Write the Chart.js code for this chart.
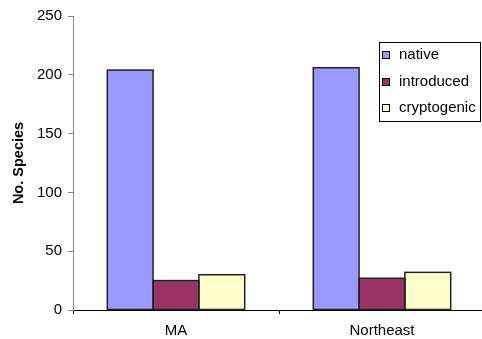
<!DOCTYPE html>
<html>
<head>
<meta charset="utf-8">
<script src="https://cdn.jsdelivr.net/npm/chart.js@4.4.1/dist/chart.umd.min.js"></script>
<style>
  html, body { margin: 0; padding: 0; background: #fff; overflow: hidden; }
  #wrap { width: 485px; height: 339px; }
</style>
</head>
<body>
<div id="wrap"><canvas id="c" width="485" height="339"></canvas></div>
<script>
// Species counts by origin, for Massachusetts and the wider Northeast
const categories = ['MA', 'Northeast'];
const seriesNames = ['native', 'introduced', 'cryptogenic'];
const nativeCounts = [204, 206];
const introducedCounts = [25, 27];
const cryptogenicCounts = [30, 32];
const yTicks = [0, 50, 100, 150, 200, 250];

const fills = ['#9999FF', '#993366', '#FFFFCC'];
const FONT = 'Liberation Sans, Arial, sans-serif';

// Dark outline round every bar, taken from the bar elements' own geometry
const barOutline = {
  id: 'barOutline',
  afterDatasetsDraw(chart) {
    const ctx = chart.ctx;
    ctx.save();
    ctx.strokeStyle = '#222';
    ctx.lineWidth = 1.5;
    chart.data.datasets.forEach((ds, i) => {
      chart.getDatasetMeta(i).data.forEach(bar => {
        const { x, y, base, width } = bar.getProps(['x', 'y', 'base', 'width'], true);
        ctx.strokeRect(x - width / 2, y, width, base - y);
      });
    });
    ctx.restore();
  }
};

// Boxed legend drawn inside the plot, top right
const boxedLegend = {
  id: 'boxedLegend',
  afterDraw(chart) {
    const ctx = chart.ctx;
    const x0 = 379.5, y0 = 42.5, w = 101, h = 79;
    ctx.save();
    ctx.fillStyle = '#fff';
    ctx.fillRect(x0, y0, w, h);
    ctx.strokeStyle = '#000';
    ctx.lineWidth = 1;
    ctx.strokeRect(x0, y0, w, h);
    ctx.font = '15px ' + FONT;
    ctx.textBaseline = 'middle';
    chart.data.datasets.forEach((ds, i) => {
      const cy = 55 + i * 26.5;
      const by = Math.round(cy) - 3.5;
      ctx.fillStyle = ds.backgroundColor;
      ctx.fillRect(382.5, by, 7, 7);
      ctx.strokeStyle = '#000';
      ctx.strokeRect(382.5, by, 7, 7);
      ctx.fillStyle = '#000';
      ctx.fillText(ds.label, 399, cy);
    });
    ctx.restore();
  }
};

new Chart(document.getElementById('c'), {
  type: 'bar',
  data: {
    labels: categories,
    datasets: [
      { label: seriesNames[0], data: nativeCounts, backgroundColor: fills[0] },
      { label: seriesNames[1], data: introducedCounts, backgroundColor: fills[1] },
      { label: seriesNames[2], data: cryptogenicCounts, backgroundColor: fills[2] }
    ].map(d => Object.assign(d, {
      borderWidth: 0,
      categoryPercentage: 0.667,
      barPercentage: 1.0
    }))
  },
  options: {
    responsive: false,
    animation: false,
    events: [],
    layout: { padding: { top: 16, right: 0, left: 0, bottom: 0 } },
    plugins: {
      legend: { display: false },
      tooltip: { enabled: false }
    },
    scales: {
      x: {
        offset: true,
        grid: {
          offset: true,
          drawOnChartArea: false,
          drawTicks: true,
          tickLength: 4,
          color: '#000'
        },
        border: { display: true, color: '#000', width: 1 },
        ticks: {
          color: '#000',
          font: { family: FONT, size: 15 },
          padding: 8
        },
        afterFit(scale) { scale.height = 29; }
      },
      y: {
        min: 0,
        max: 250,
        afterBuildTicks(scale) { scale.ticks = yTicks.map(v => ({ value: v })); },
        grid: {
          drawOnChartArea: false,
          drawTicks: true,
          tickLength: 5,
          color: '#888'
        },
        border: { display: true, color: '#888', width: 1 },
        ticks: {
          color: '#000',
          font: { family: FONT, size: 15 },
          padding: 6
        },
        title: {
          display: true,
          text: 'No. Species',
          color: '#000',
          font: { family: FONT, size: 14.5, weight: 'bold' },
          padding: { top: 10, bottom: 0 }
        },
        afterFit(scale) { scale.width = 73; }
      }
    }
  },
  plugins: [barOutline, boxedLegend]
});
</script>
</body>
</html>
